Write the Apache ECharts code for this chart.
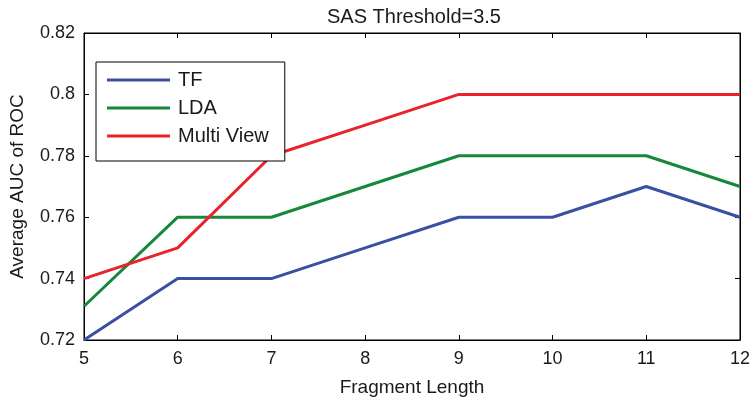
<!DOCTYPE html>
<html lang="en">
<head>
    <meta charset="UTF-8">
    <title>SAS Threshold</title>
    <script src="https://cdn.jsdelivr.net/npm/echarts@6/dist/echarts.min.js"></script>
</head>
<style>
html,body{margin:0;padding:0;background-color:#fff}
#chartBox{width:753px;height:405px}
</style>
<body>
    <div id="chartBox"></div>
</body>
<script>
// 数据
const fragLength = [5, 6, 7, 8, 9, 10, 11, 12];
const tfAuc = [0.72, 0.74, 0.74, 0.75, 0.76, 0.76, 0.77, 0.76];
const ldaAuc = [0.731, 0.76, 0.76, 0.77, 0.78, 0.78, 0.78, 0.77];
const multiViewAuc = [0.74, 0.75, 0.78, 0.79, 0.80, 0.80, 0.80, 0.80];
const seriesNames = ['TF', 'LDA', 'Multi View'];

const font = 'Liberation Sans, Arial, sans-serif';
const textColor = '#1a1a1a';

function pairs(values) {
    return fragLength.map((x, i) => [x, values[i]]);
}

function makeLine(name, values, color) {
    return {
        type: 'line',
        name: name,
        data: pairs(values),
        symbol: 'none',
        color: color,
        lineStyle: {width: 3, color: color},
        z: 3
    };
}

// 上/右侧的坐标轴只画刻度
function mirrorAxis(position, min, max, interval) {
    return {
        type: 'value',
        position: position,
        min: min,
        max: max,
        interval: interval,
        axisLine: {show: true, lineStyle: {color: '#000'}},
        axisTick: {show: true, inside: true, length: 5, lineStyle: {color: '#000'}},
        axisLabel: {show: false},
        splitLine: {show: false}
    };
}

let chartObj = echarts.init(document.getElementById('chartBox'));
let option = {
    animation: false,
    textStyle: {fontFamily: font},
    title: {
        text: 'SAS Threshold=3.5',
        left: 409,
        textAlign: 'center',
        top: 2,
        textStyle: {fontSize: 20, fontWeight: 'normal', color: textColor, fontFamily: font}
    },
    grid: {
        left: 81,
        right: 12,
        top: 33,
        bottom: 65,
        show: true,
        borderColor: '#000',
        borderWidth: 1
    },
    legend: {
        orient: 'vertical',
        left: 96,
        top: 62,
        backgroundColor: '#fff',
        borderColor: '#000',
        borderWidth: 1,
        padding: [4, 16, 11, 11],
        itemGap: 0,
        itemWidth: 63,
        itemHeight: 3,
        icon: 'rect',
        data: seriesNames,
        textStyle: {fontSize: 20, color: textColor, lineHeight: 20, padding: [8, 0, 0, 3], fontFamily: font}
    },
    xAxis: [
        {
            type: 'value',
            min: 5,
            max: 12,
            interval: 1,
            name: 'Fragment Length',
            nameLocation: 'center',
            nameGap: 38,
            nameTextStyle: {fontSize: 19, color: textColor},
            axisLine: {show: true, lineStyle: {color: '#000'}},
            axisTick: {show: true, inside: true, length: 5, lineStyle: {color: '#000'}},
            axisLabel: {fontSize: 18, color: textColor, margin: 10},
            splitLine: {show: false}
        },
        mirrorAxis('top', 5, 12, 1)
    ],
    yAxis: [
        {
            type: 'value',
            min: 0.72,
            max: 0.82,
            interval: 0.02,
            name: 'Average AUC of ROC',
            nameLocation: 'center',
            nameGap: 57,
            nameTextStyle: {fontSize: 19, color: textColor},
            axisLine: {show: true, lineStyle: {color: '#000'}},
            axisTick: {show: true, inside: true, length: 5, lineStyle: {color: '#000'}},
            axisLabel: {fontSize: 18, color: textColor, margin: 9},
            splitLine: {show: false}
        },
        mirrorAxis('right', 0.72, 0.82, 0.02)
    ],
    series: [
        makeLine('TF', tfAuc, '#3b4fa3'),
        makeLine('LDA', ldaAuc, '#16883a'),
        makeLine('Multi View', multiViewAuc, '#e8232b')
    ]
};
chartObj.setOption(option);
</script>
</html>
